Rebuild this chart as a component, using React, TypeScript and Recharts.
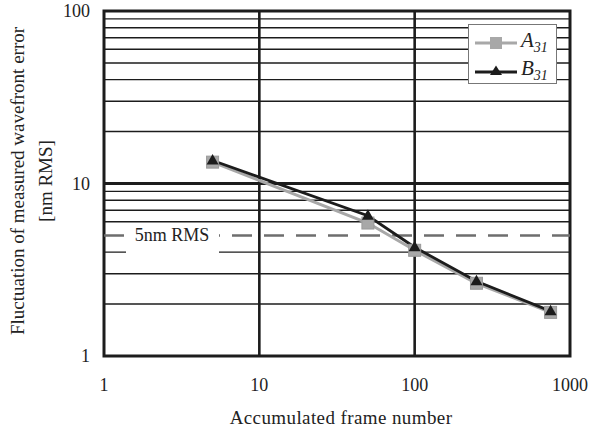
import { LineChart, Line, XAxis, YAxis, ReferenceLine, ReferenceArea, Legend, Label } from 'recharts';

// accumulated frame counts and measured fluctuation [nm RMS]
const frames = [5, 50, 100, 250, 750];
const a31 = [13.3, 5.9, 4.1, 2.64, 1.79];
const b31 = [13.6, 6.5, 4.27, 2.71, 1.82];

const xTicks = [1, 10, 100, 1000];
const yTicks = [1, 10, 100];
const xMajorGrid = [10, 100];
const yMajorGrid = [10];
const yMinorGrid = [2, 3, 4, 6, 7, 8, 9, 20, 30, 40, 50, 60, 70, 80, 90];
const rmsLimit = 5;
const rmsLabel = '5nm RMS';

const rows = frames.map((f, i) => ({ frames: f, a31: a31[i], b31: b31[i] }));

const SERIF = '"Liberation Serif", "Times New Roman", serif';
const INK = '#1c1c1c';
const GREY = '#a8a8a8';

const SquareDot = (props: any) => {
  const { cx, cy, index } = props;
  if (cx == null || cy == null) return <g key={index} />;
  return <rect key={index} x={cx - 6} y={cy - 6} width={12} height={12} fill={GREY} stroke="#9a9a9a" strokeWidth={1} />;
};

const TriangleDot = (props: any) => {
  const { cx, cy, index } = props;
  if (cx == null || cy == null) return <g key={index} />;
  return <polygon key={index} points={`${cx},${cy - 6.5} ${cx + 6},${cy + 4} ${cx - 6},${cy + 4}`} fill={INK} />;
};

const YTitle = ({ viewBox }: any) => {
  const x0 = viewBox?.x ?? 0;
  const cy = 181;
  return (
    <g fontFamily={SERIF} fontSize={19} fill="#222">
      <text transform={`translate(${x0 + 17}, ${cy}) rotate(-90)`} textAnchor="middle" dominantBaseline="central">
        Fluctuation of measured wavefront error
      </text>
      <text transform={`translate(${x0 + 45}, ${cy}) rotate(-90)`} textAnchor="middle" dominantBaseline="central">
        [nm RMS]
      </text>
    </g>
  );
};

const XTitle = () => (
  <text x={341} y={424} textAnchor="middle" fontFamily={SERIF} fontSize={19} fill="#222" letterSpacing={0.4}>
    Accumulated frame number
  </text>
);

const RmsLabel = ({ viewBox }: any) => {
  const x0 = viewBox?.x ?? 0;
  const y0 = viewBox?.y ?? 0;
  return (
    <g>
      <rect x={x0 + 22} y={y0 - 11} width={93} height={30} fill="#fff" />
      <text x={x0 + 68} y={y0 + 6} textAnchor="middle" fontFamily={SERIF} fontSize={18} fill="#222">
        {rmsLabel}
      </text>
    </g>
  );
};

const LegendBox = () => (
  <div
    style={{
      width: 89,
      height: 60,
      border: '1px solid #777',
      background: '#fff',
      fontFamily: SERIF,
      boxSizing: 'border-box',
      paddingTop: 4,
    }}
  >
    <div style={{ display: 'flex', alignItems: 'center', height: 28 }}>
      <svg width={48} height={16} style={{ marginLeft: 4 }}>
        <line x1={2} y1={8} x2={44} y2={8} stroke={GREY} strokeWidth={3} />
        <rect x={17} y={2} width={12} height={12} fill={GREY} />
      </svg>
      <span style={{ fontStyle: 'italic', fontSize: 21, color: '#222', lineHeight: 1 }}>
        A<sub style={{ fontSize: 14 }}>31</sub>
      </span>
    </div>
    <div style={{ display: 'flex', alignItems: 'center', height: 28 }}>
      <svg width={48} height={16} style={{ marginLeft: 4 }}>
        <line x1={2} y1={9} x2={44} y2={9} stroke={INK} strokeWidth={3} />
        <polygon points="23,2.5 29,12 17,12" fill={INK} />
      </svg>
      <span style={{ fontStyle: 'italic', fontSize: 21, color: '#222', lineHeight: 1 }}>
        B<sub style={{ fontSize: 14 }}>31</sub>
      </span>
    </div>
  </div>
);

export default function App() {
  return (
    <div style={{ position: 'absolute', left: 0, top: 0, width: 590, height: 430, background: '#fff' }}>
      <LineChart width={590} height={430} data={rows} margin={{ top: 11, right: 20, bottom: 0, left: 0 }}>
        <XAxis
          dataKey="frames"
          type="number"
          scale="log"
          domain={[1, 1000]}
          ticks={xTicks}
          allowDataOverflow
          height={74}
          axisLine={false}
          tickLine={false}
          tickSize={0}
          tickMargin={22}
          interval={0}
          tick={{ fill: '#222', fontSize: 18, fontFamily: SERIF }}
        >
          <Label content={<XTitle />} />
        </XAxis>
        <YAxis
          type="number"
          scale="log"
          domain={[1, 100]}
          ticks={yTicks}
          allowDataOverflow
          width={104}
          axisLine={false}
          tickLine={false}
          tickSize={0}
          tickMargin={14}
          interval={0}
          tick={{ fill: '#222', fontSize: 18, fontFamily: SERIF }}
        >
          <Label content={<YTitle />} />
        </YAxis>

        {yMinorGrid.map((v) => (
          <ReferenceLine key={`ym${v}`} y={v} stroke={INK} strokeWidth={1.4} />
        ))}
        {yMajorGrid.map((v) => (
          <ReferenceLine key={`yM${v}`} y={v} stroke={INK} strokeWidth={3} />
        ))}
        {xMajorGrid.map((v) => (
          <ReferenceLine key={`xM${v}`} x={v} stroke={INK} strokeWidth={2.6} />
        ))}
        <ReferenceLine
          y={rmsLimit}
          stroke="#6e6e6e"
          strokeWidth={2.4}
          strokeDasharray="20 12"
          label={<RmsLabel />}
        />
        <ReferenceArea x1={1} x2={1000} y1={1} y2={100} fill="none" stroke={INK} strokeWidth={3} ifOverflow="visible" />

        <Line
          dataKey="a31"
          name="A31"
          stroke={GREY}
          strokeWidth={3}
          dot={<SquareDot />}
          isAnimationActive={false}
        />
        <Line
          dataKey="b31"
          name="B31"
          stroke={INK}
          strokeWidth={2.8}
          dot={<TriangleDot />}
          isAnimationActive={false}
        />

        <Legend
          layout="horizontal"
          verticalAlign="middle"
          align="center"
          content={<LegendBox />}
          wrapperStyle={{ left: 468, top: 24, width: 89, height: 60 }}
        />
      </LineChart>
    </div>
  );
}
